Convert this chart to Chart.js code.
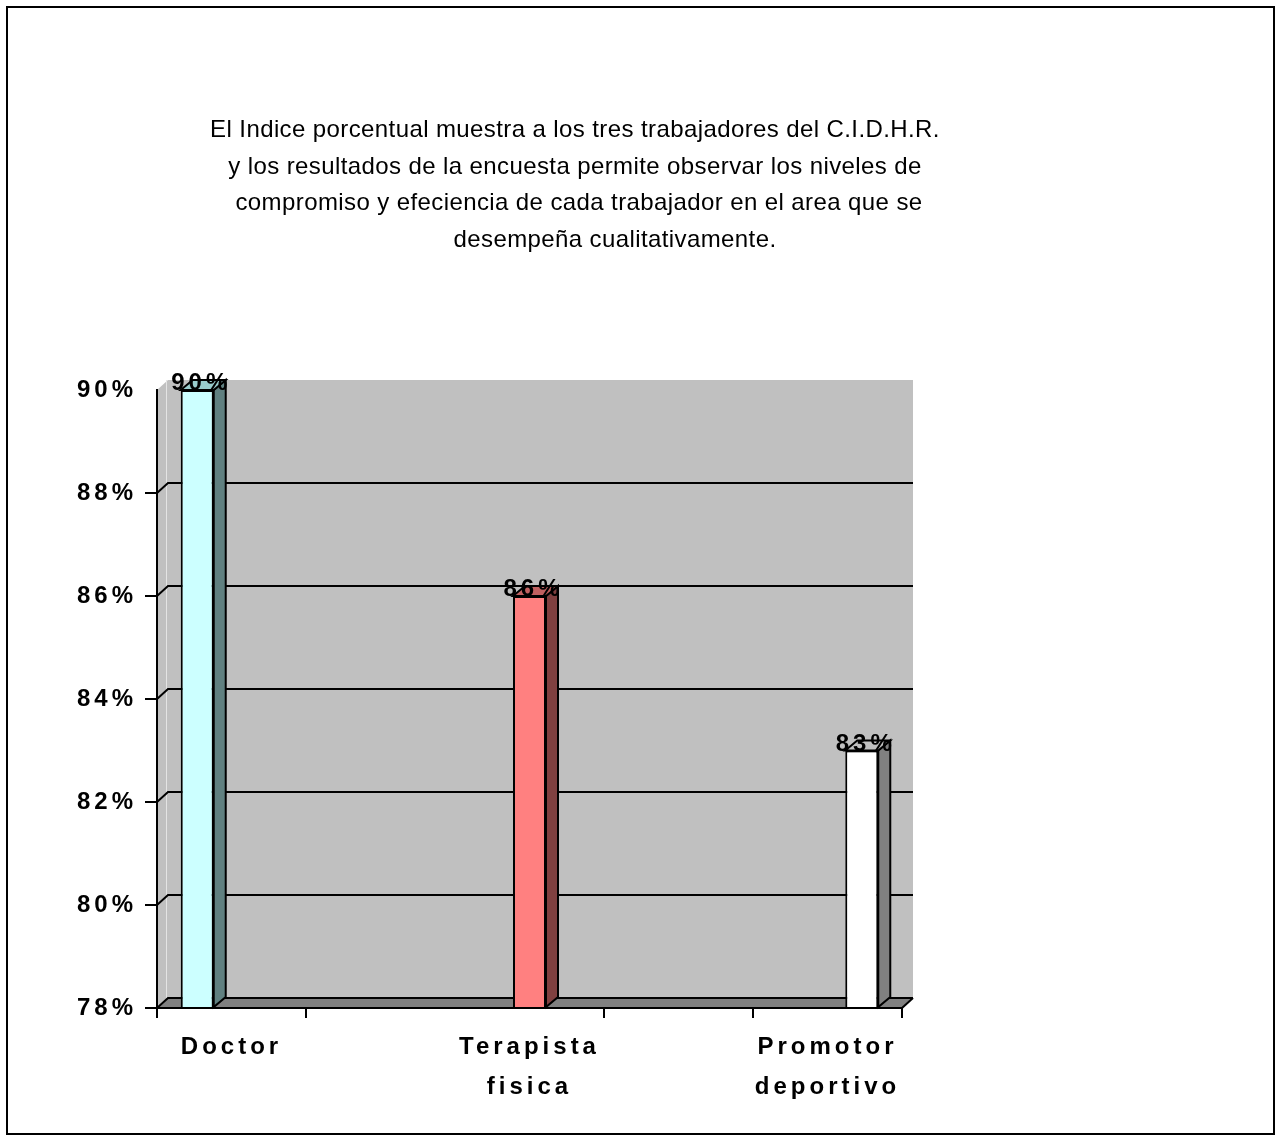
<!DOCTYPE html>
<html>
<head>
<meta charset="utf-8">
<title>Indice porcentual C.I.D.H.R.</title>
<script src="https://cdn.jsdelivr.net/npm/chart.js@4.4.1/dist/chart.umd.min.js"></script>
<style>
  html, body { margin: 0; padding: 0; background: #ffffff; }
  canvas { display: block; }
</style>
</head>
<body>
<canvas id="chart" width="1281" height="1140"></canvas>
<script>
// Workers surveyed and their percentage index
const workers = ['Doctor', ['Terapista', 'fisica'], ['Promotor', 'deportivo']];
const percentages = [90, 86, 83];
const yTickValues = [78, 80, 82, 84, 86, 88, 90];

const titleLines = [
  'El Indice porcentual muestra a los tres trabajadores del C.I.D.H.R.',
  'y los resultados de la encuesta permite observar los niveles de',
  'compromiso y efeciencia de cada trabajador en el area que se',
  'desempeña cualitativamente.'
];

// Face colours of each column: front, right side, top
const frontColors = ['#CCFFFF', '#FF8080', '#FFFFFF'];
const sideColors = ['#608080', '#804040', '#808080'];
const topColors = ['#99CCCC', '#C06060', '#C0C0C0'];

// Category slots: each worker separated by an empty slot
const slots = [];
workers.forEach((w, i) => { if (i > 0) slots.push(''); slots.push(w); });

const datasets = workers.map((w, i) => ({
  label: Array.isArray(w) ? w.join(' ') : w,
  data: slots.map((_, k) => (k === 2 * i ? percentages[i] : null)),
  base: yTickValues[0],
  backgroundColor: frontColors[i],
  borderColor: '#000000',
  borderWidth: 2,
  borderSkipped: 'bottom',
  categoryPercentage: 0.69,
  barPercentage: 0.963
}));

const FONT = '"Liberation Sans", Arial, Helvetica, sans-serif';
const WALL_DX = 11, WALL_DY = -10;   // depth of walls and floor
const BAR_DX = 12, BAR_DY = -10;     // depth of columns

// Back wall, side wall, floor and gridlines on the wall
const wallPlugin = {
  id: 'wall3d',
  beforeDraw(chart) {
    const { ctx, chartArea: a, scales } = chart;
    const y = scales.y;
    const top = y.getPixelForValue(yTickValues[yTickValues.length - 1]);
    const bottom = y.getPixelForValue(yTickValues[0]);
    ctx.save();
    // outer frame
    ctx.strokeStyle = '#000';
    ctx.lineWidth = 2;
    ctx.strokeRect(7, 7, 1267, 1127);

    ctx.fillStyle = '#C0C0C0';
    ctx.fillRect(a.left + WALL_DX, top + WALL_DY, a.right - a.left, bottom - top);
    ctx.beginPath();
    ctx.moveTo(a.left, top);
    ctx.lineTo(a.left + WALL_DX, top + WALL_DY);
    ctx.lineTo(a.left + WALL_DX, bottom + WALL_DY);
    ctx.lineTo(a.left, bottom);
    ctx.closePath();
    ctx.fill();
    // light edge between side wall and back wall
    ctx.strokeStyle = '#E4E4E4';
    ctx.lineWidth = 1;
    ctx.beginPath();
    ctx.moveTo(a.left + WALL_DX - 1.5, top + WALL_DY);
    ctx.lineTo(a.left + WALL_DX - 1.5, bottom + WALL_DY);
    ctx.stroke();
    // floor
    ctx.fillStyle = '#808080';
    ctx.beginPath();
    ctx.moveTo(a.left, bottom);
    ctx.lineTo(a.left + WALL_DX, bottom + WALL_DY);
    ctx.lineTo(a.right + WALL_DX, bottom + WALL_DY);
    ctx.lineTo(a.right, bottom);
    ctx.closePath();
    ctx.fill();
    // gridlines
    ctx.strokeStyle = '#000';
    ctx.lineWidth = 2;
    yTickValues.slice(0, -1).forEach(v => {
      const py = y.getPixelForValue(v);
      ctx.beginPath();
      ctx.moveTo(a.left, py);
      ctx.lineTo(a.left + WALL_DX, py + WALL_DY);
      ctx.lineTo(a.right + WALL_DX, py + WALL_DY);
      ctx.stroke();
    });
    ctx.beginPath();
    ctx.moveTo(a.right, bottom);
    ctx.lineTo(a.right + WALL_DX, bottom + WALL_DY);
    ctx.stroke();
    ctx.restore();
    // spaced lettering used by the axis labels
    ctx.letterSpacing = '4px';
  }
};

// Side and top faces of each column, then the value labels
const columnPlugin = {
  id: 'columns3d',
  afterDatasetsDraw(chart) {
    const ctx = chart.ctx;
    ctx.save();
    chart.data.datasets.forEach((ds, i) => {
      const meta = chart.getDatasetMeta(i);
      meta.data.forEach((bar, k) => {
        const v = ds.data[k];
        if (v === null || v === undefined) return;
        const { x, y, base, width } = bar.getProps(['x', 'y', 'base', 'width'], true);
        const x0 = x - width / 2, x1 = x + width / 2;
        ctx.lineWidth = 2;
        ctx.strokeStyle = '#000';
        ctx.lineJoin = 'miter';
        // right side
        ctx.fillStyle = sideColors[i];
        ctx.beginPath();
        ctx.moveTo(x1, y);
        ctx.lineTo(x1 + BAR_DX, y + BAR_DY);
        ctx.lineTo(x1 + BAR_DX, base + BAR_DY);
        ctx.lineTo(x1, base);
        ctx.closePath();
        ctx.fill();
        ctx.stroke();
        // top
        ctx.fillStyle = topColors[i];
        ctx.beginPath();
        ctx.moveTo(x0, y);
        ctx.lineTo(x0 + BAR_DX, y + BAR_DY);
        ctx.lineTo(x1 + BAR_DX, y + BAR_DY);
        ctx.lineTo(x1, y);
        ctx.closePath();
        ctx.fill();
        ctx.stroke();
        // value label
        ctx.fillStyle = '#000';
        ctx.font = 'bold 24px ' + FONT;
        ctx.letterSpacing = '4px';
        ctx.textAlign = 'center';
        ctx.textBaseline = 'alphabetic';
        ctx.fillText(v + '%', x + 4, y);
      });
    });
    ctx.restore();
  }
};

// Explanatory text above the chart
const notePlugin = {
  id: 'note',
  afterDraw(chart) {
    const ctx = chart.ctx;
    const centers = [575, 575, 579, 615];
    ctx.save();
    ctx.letterSpacing = '0.4px';
    ctx.font = '24px ' + FONT;
    ctx.fillStyle = '#000';
    ctx.textAlign = 'center';
    ctx.textBaseline = 'alphabetic';
    titleLines.forEach((t, i) => ctx.fillText(t, centers[i], 137 + i * 36.5));
    ctx.restore();
    ctx.letterSpacing = '0px';
  }
};

new Chart(document.getElementById('chart'), {
  type: 'bar',
  data: { labels: slots, datasets },
  options: {
    responsive: false,
    animation: false,
    layout: { padding: { top: 390, left: 0, right: 379, bottom: 0 } },
    plugins: {
      legend: { display: false },
      title: { display: false },
      tooltip: { enabled: false }
    },
    scales: {
      x: {
        z: 1,
        offset: true,
        afterFit(scale) { scale.height = 132; },
        grid: {
          offset: true,
          drawOnChartArea: false,
          drawTicks: true,
          tickLength: 10,
          lineWidth: 2,
          color: c => (c.index === 2 ? 'rgba(0,0,0,0)' : '#000')
        },
        border: { display: true, color: '#000', width: 2 },
        ticks: {
          autoSkip: false,
          maxRotation: 0,
          minRotation: 0,
          padding: 9,
          color: '#000',
          font: { family: FONT, size: 24, weight: 'bold', lineHeight: 1.667 }
        }
      },
      y: {
        min: yTickValues[0],
        max: yTickValues[yTickValues.length - 1],
        afterBuildTicks(scale) { scale.ticks = yTickValues.map(v => ({ value: v })); },
        afterFit(scale) { scale.width = 157; },
        grid: {
          drawOnChartArea: false,
          drawTicks: true,
          tickLength: 12,
          lineWidth: 2,
          color: c => (c.tick && c.tick.value === yTickValues[yTickValues.length - 1] ? 'rgba(0,0,0,0)' : '#000')
        },
        border: { display: true, color: '#000', width: 2 },
        ticks: {
          padding: 8,
          color: '#000',
          font: { family: FONT, size: 24, weight: 'bold' },
          callback: v => v + '%'
        }
      }
    }
  },
  plugins: [wallPlugin, columnPlugin, notePlugin]
});
</script>
</body>
</html>
